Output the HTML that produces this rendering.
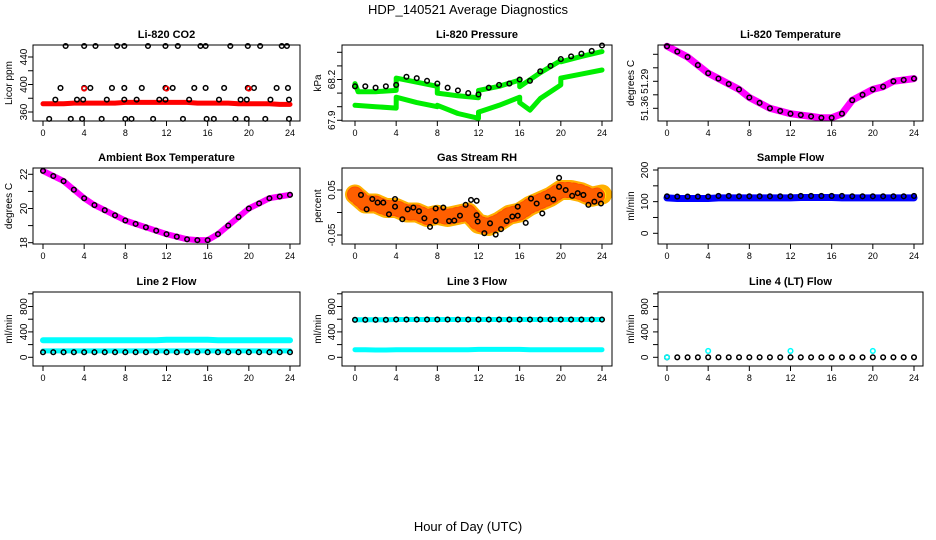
<!DOCTYPE html>
<html><head><meta charset="utf-8"><style>
html,body{margin:0;padding:0;background:#fff;}
svg{display:block;font-family:"Liberation Sans",sans-serif;}
</style></head><body>
<svg id="chart" width="936" height="540" viewBox="0 0 936 540" xmlns="http://www.w3.org/2000/svg">
<rect x="0" y="0" width="936" height="540" fill="#fff"/>
<text x="468" y="14" text-anchor="middle" font-size="13">HDP_140521  Average Diagnostics</text>
<text x="468" y="531" text-anchor="middle" font-size="13">Hour of Day (UTC)</text>
</svg>
<script>
// ---- data ----
const hours = [0,1,2,3,4,5,6,7,8,9,10,11,12,13,14,15,16,17,18,19,20,21,22,23,24];
const xTickLabels = [0,4,8,12,16,20,24];

const co2Red = [372,372,372,373,373,373,373,373,374,374,374,374,374,374,374,373,373,373,373,372,372,372,372,371,371];
const co2TopHours = [2.2,4,5.1,7.2,7.9,10.2,11.9,13.1,15.3,15.8,18.2,19.9,21.1,23.2,23.7];
const co2TopVal = 456;
const co2MidHours = [1.7,4,4.6,6.7,7.9,9.6,11.9,12.6,14.7,15.8,17.6,19.9,20.5,22.7,23.8];
const co2MidVal = 395;
const co2LowHours = [1.2,3.3,3.9,6.2,7.9,9.1,11.3,11.9,14.2,17.1,19.2,19.8,22.1,23.9];
const co2LowVal = 378;
const co2BotHours = [0.6,2.7,3.8,5.7,8,8.6,10.7,13.6,15.9,16.6,18.7,19.8,21.6,23.9];
const co2BotVal = 350;
const co2RedHours = [4,12,20];
const co2RedVal = 394;
const co2Ticks = [360,380,400,420,440];
const co2TickLabels = ["360","","400","","440"];

const pHiHours = [0,0.3,2,4,4,6,8,8,10,12,12,14,16,16,18,20,20,22,24];
const pHiVals = [68.17,68.11,68.11,68.12,68.21,68.18,68.15,68.10,68.08,68.066,68.12,68.15,68.196,68.147,68.25,68.34,68.33,68.37,68.405];
const pLoHours = [0,2,4,4,6,8,8,10,12,12,14,16,16,17,18,20,20,22,24];
const pLoVals = [68.01,68.0,67.99,68.07,68.03,68.0,68.01,67.95,67.915,67.96,68.01,68.07,68.03,67.975,68.06,68.16,68.21,68.24,68.27];
const pBlack = [68.15,68.15,68.14,68.15,68.16,68.22,68.21,68.19,68.17,68.14,68.12,68.10,68.09,68.14,68.16,68.17,68.20,68.19,68.26,68.30,68.35,68.37,68.39,68.41,68.45];
const pTicks = [67.9,68.0,68.1,68.2,68.3,68.4];
const pTickLabels = ["67.9","","","68.2","",""];

const tVals = [51.43,51.41,51.39,51.36,51.33,51.31,51.29,51.27,51.24,51.22,51.20,51.19,51.18,51.175,51.17,51.165,51.165,51.18,51.23,51.25,51.27,51.28,51.30,51.305,51.31];
const tTicks = [51.2,51.25,51.3,51.35,51.4];
const tTickLabels = ["51.36","","51.29","",""];

const ambVals = [22.2,21.9,21.6,21.1,20.6,20.2,19.9,19.6,19.3,19.1,18.9,18.7,18.5,18.35,18.2,18.15,18.15,18.5,19.0,19.5,20.0,20.3,20.6,20.7,20.8];
const ambTicks = [18,19,20,21,22];
const ambTickLabels = ["18","","20","","22"];

const rhBand = [0.04,0.02,0.02,0.01,0.01,0.0,0.0,-0.01,-0.005,-0.01,-0.005,0.0,-0.025,-0.03,-0.02,-0.005,0.0,0.015,0.025,0.035,0.05,0.05,0.045,0.035,0.04];
const rhBlackHours = [0.58,1.13,1.68,2.2,2.75,3.3,3.89,3.89,4.6,5.12,5.67,6.22,6.74,7.29,7.84,7.84,8.58,9.14,9.65,10.2,10.75,11.27,11.82,11.82,11.92,12.57,13.12,13.67,14.19,14.74,15.29,15.81,15.81,16.59,17.1,17.65,18.2,18.72,19.27,19.83,19.83,20.47,21.1,21.64,22.19,22.68,23.26,23.81,23.9];
const rhBlackVals = [0.039,0.007,0.03,0.022,0.022,-0.004,0.03,0.013,-0.015,0.007,0.011,0.003,-0.013,-0.032,0.009,-0.019,0.011,-0.019,-0.018,-0.007,0.017,0.028,0.026,-0.006,-0.02,-0.046,-0.024,-0.049,-0.037,-0.019,-0.009,-0.007,0.013,-0.023,0.031,0.02,-0.002,0.035,0.029,0.077,0.057,0.05,0.037,0.043,0.039,0.017,0.024,0.039,0.02];
const rhTicks = [-0.05,0,0.05];
const rhTickLabels = ["-0.05","","0.05"];

const sfBlue = [112,110,110,110,110,112,112,112,112,112,112,112,112,113,113,113,113,112,112,112,112,112,112,112,112];
const sfBlack = [117,116,116,116,116,118,118,117,117,117,117,117,117,118,118,118,118,118,117,117,117,117,117,117,118];
const sfTicks = [0,50,100,150,200];
const sfTickLabels = ["0","","100","","200"];

const flowTicks = [0,200,400,600,800,1000];
const flowTickLabels = ["0","","400","","800",""];
const l2CyanHi = [270,270,270,270,270,270,270,270,270,270,270,270,275,275,275,275,275,270,270,270,270,270,270,270,270];
const l2CyanLo = [100,100,100,100,100,100,100,100,100,100,100,100,100,100,100,100,100,100,100,100,100,100,100,100,100];
const l2Black = [80,80,80,80,80,80,80,80,80,80,80,80,80,80,80,80,80,80,80,80,80,80,80,80,80];
const l3Black = [590,590,590,590,595,595,595,595,595,595,595,595,595,595,595,595,595,595,595,595,595,595,595,595,595];
const l3CyanLo = [120,120,115,115,120,120,120,120,120,118,118,120,125,125,125,125,125,120,120,120,120,120,120,120,120];
const l4Black = [0,0,0,0,0,0,0,0,0,0,0,0,0,0,0,0,0,0,0,0,0,0,0,0,0];
const l4CyanHours = [0,4,12,20];
const l4CyanVals = [0,100,100,100];

// ---- layout ----
const NS = "http://www.w3.org/2000/svg";
const svg = document.getElementById('chart');
const cols = [{L:33,R:300,h0:43,h24:290,yl:12,tl:27},{L:342,R:612,h0:355,h24:602,yl:321,tl:335},{L:658,R:923,h0:667,h24:914,yl:634,tl:648}];
const rows = [{T:45,B:121},{T:168,B:244},{T:292,B:366}];

function mk(tag, attrs, parent){
  const e = document.createElementNS(NS, tag);
  for (const k in attrs) e.setAttribute(k, attrs[k]);
  (parent||svg).appendChild(e);
  return e;
}

function panel(name, title, c, r, ylab, v1, p1, v2, p2, yTicks, yTickLabels){
  const col = cols[c], row = rows[r];
  const g = mk('g', {});
  
  
  const xs = h => col.h0 + (h) * (col.h24 - col.h0) / 24;
  const ys = v => p1 + (v - v1) * (p2 - p1) / (v2 - v1);
  const plot = mk('g', {}, g);
  const box = mk('rect', {x:col.L, y:row.T, width:col.R-col.L, height:row.B-row.T, fill:'none', stroke:'#000', 'stroke-width':1}, g);
  
  
  const t = mk('text', {x:(col.L+col.R)/2, y:row.T-7, 'text-anchor':'middle', 'font-size':11, 'font-weight':'bold'}, g);
  t.textContent = title;
  
  
  const yl = mk('text', {x:col.yl, y:(row.T+row.B)/2, 'text-anchor':'middle', 'font-size':10, transform:`rotate(-90 ${col.yl} ${(row.T+row.B)/2})`}, g);
  yl.textContent = ylab;
  
  
  const axg = mk('g', {}, g);
  xTickLabels.forEach(h => {
    const x = xs(h);
    mk('line', {x1:x, x2:x, y1:row.B, y2:row.B+5, stroke:'#000'}, axg);
    const tl = mk('text', {x:x, y:row.B+15, 'text-anchor':'middle', 'font-size':9}, axg);
    tl.textContent = h;
    
    
  });
  yTicks.forEach((v, i) => {
    const y = ys(v);
    mk('line', {x1:col.L-5, x2:col.L, y1:y, y2:y, stroke:'#000'}, axg);
    if (yTickLabels[i]) {
      const tl = mk('text', {x:col.tl, y:y, 'text-anchor':'middle', 'font-size':10, transform:`rotate(-90 ${col.tl} ${y})`}, axg);
      tl.textContent = yTickLabels[i];
      
      
    }
  });
  const api = {
    band(hs, vals, color, w, nm){
      const pts = hs.map((h,i)=>xs(h).toFixed(1)+','+ys(vals[i]).toFixed(1)).join(' ');
      const pl = mk('polyline', {points:pts, fill:'none', stroke:color, 'stroke-width':w, 'stroke-linejoin':'round', 'stroke-linecap':'round'}, plot);
      
      
      return pl;
    },
    pts(hs, vals, color, nm, rad){
      hs.forEach((h,i)=>{
        const v = Array.isArray(vals) ? vals[i] : vals;
        const cc = mk('circle', {cx:xs(h), cy:ys(v), r:rad||2.3, fill:'none', stroke:color, 'stroke-width':1.5}, plot);
        
        
      });
    }
  };
  return api;
}

// CO2
let p = panel('co2', 'Li-820 CO2', 0, 0, 'Licor ppm', 360, 112, 440, 57, co2Ticks, co2TickLabels);
p.band(hours, co2Red, '#ff0000', 5, 'co2-red-band');
p.pts(co2TopHours, co2TopVal, '#000', 'co2-point');
p.pts(co2MidHours, co2MidVal, '#000', 'co2-point');
p.pts(co2LowHours, co2LowVal, '#000', 'co2-point');
p.pts(co2BotHours, co2BotVal, '#000', 'co2-point');
p.pts(co2RedHours, co2RedVal, '#ff0000', 'co2-red-point');

// Pressure
p = panel('pressure', 'Li-820 Pressure', 1, 0, 'kPa', 67.9, 120.3, 68.2, 79.5, pTicks, pTickLabels);
p.band(pHiHours, pHiVals, '#00ee00', 5, 'pressure-upper-band');
p.band(pLoHours, pLoVals, '#00ee00', 5, 'pressure-lower-band');
p.pts(hours, pBlack, '#000', 'pressure-point');

// Temperature
p = panel('temperature', 'Li-820 Temperature', 2, 0, 'degrees C', 51.2, 108.3, 51.4, 54.3, tTicks, tTickLabels);
p.band(hours, tVals, '#ff00ff', 7, 'temperature-band');
p.pts(hours, tVals, '#000', 'temperature-point');

// Ambient
p = panel('ambient', 'Ambient Box Temperature', 0, 1, 'degrees C', 18, 242.7, 22, 174.3, ambTicks, ambTickLabels);
p.band(hours, ambVals, '#ff00ff', 6, 'ambient-band');
p.pts(hours, ambVals, '#000', 'ambient-point');

// RH
p = panel('rh', 'Gas Stream RH', 1, 1, 'percent', -0.05, 235, 0.05, 190, rhTicks, rhTickLabels);
p.band(hours, rhBand, '#ffb000', 20, 'rh-orange-band');
const yl = p.band(hours, rhBand, '#ffee00', 14, 'rh-yellow-speckle');
yl.setAttribute('stroke-dasharray', '2 3');
const rd = p.band(hours, rhBand, '#ff2200', 16, 'rh-red-speckle');
rd.setAttribute('stroke-dasharray', '1 5');
rd.setAttribute('stroke-opacity', '0.7');
p.pts(rhBlackHours, rhBlackVals, '#000', 'rh-point');

// Sample flow
p = panel('sample-flow', 'Sample Flow', 2, 1, 'ml/min', 0, 233.3, 200, 170, sfTicks, sfTickLabels);
p.band(hours, sfBlue, '#0000ff', 7, 'sample-flow-band');
p.pts(hours, sfBlack, '#000', 'sample-flow-point');

// Line 2
p = panel('line2-flow', 'Line 2 Flow', 0, 2, 'ml/min', 0, 357.3, 800, 306.5, flowTicks, flowTickLabels);
p.band(hours, l2CyanHi, '#00ffff', 6, 'line2-cyan-upper');
p.band(hours, l2CyanLo, '#00ffff', 5, 'line2-cyan-lower');
p.pts(hours, l2Black, '#000', 'line2-point');

// Line 3
p = panel('line3-flow', 'Line 3 Flow', 1, 2, 'ml/min', 0, 357.3, 800, 306.5, flowTicks, flowTickLabels);
p.band(hours, l3Black, '#00ffff', 5, 'line3-cyan-upper');
p.band(hours, l3CyanLo, '#00ffff', 5, 'line3-cyan-lower');
p.pts(hours, l3Black, '#000', 'line3-point');

// Line 4
p = panel('line4-flow', 'Line 4 (LT) Flow', 2, 2, 'ml/min', 0, 357.3, 800, 306.5, flowTicks, flowTickLabels);
p.pts(hours, l4Black, '#000', 'line4-point');
p.pts(l4CyanHours, l4CyanVals, '#00ffff', 'line4-cyan-point');
</script>
</body></html>
